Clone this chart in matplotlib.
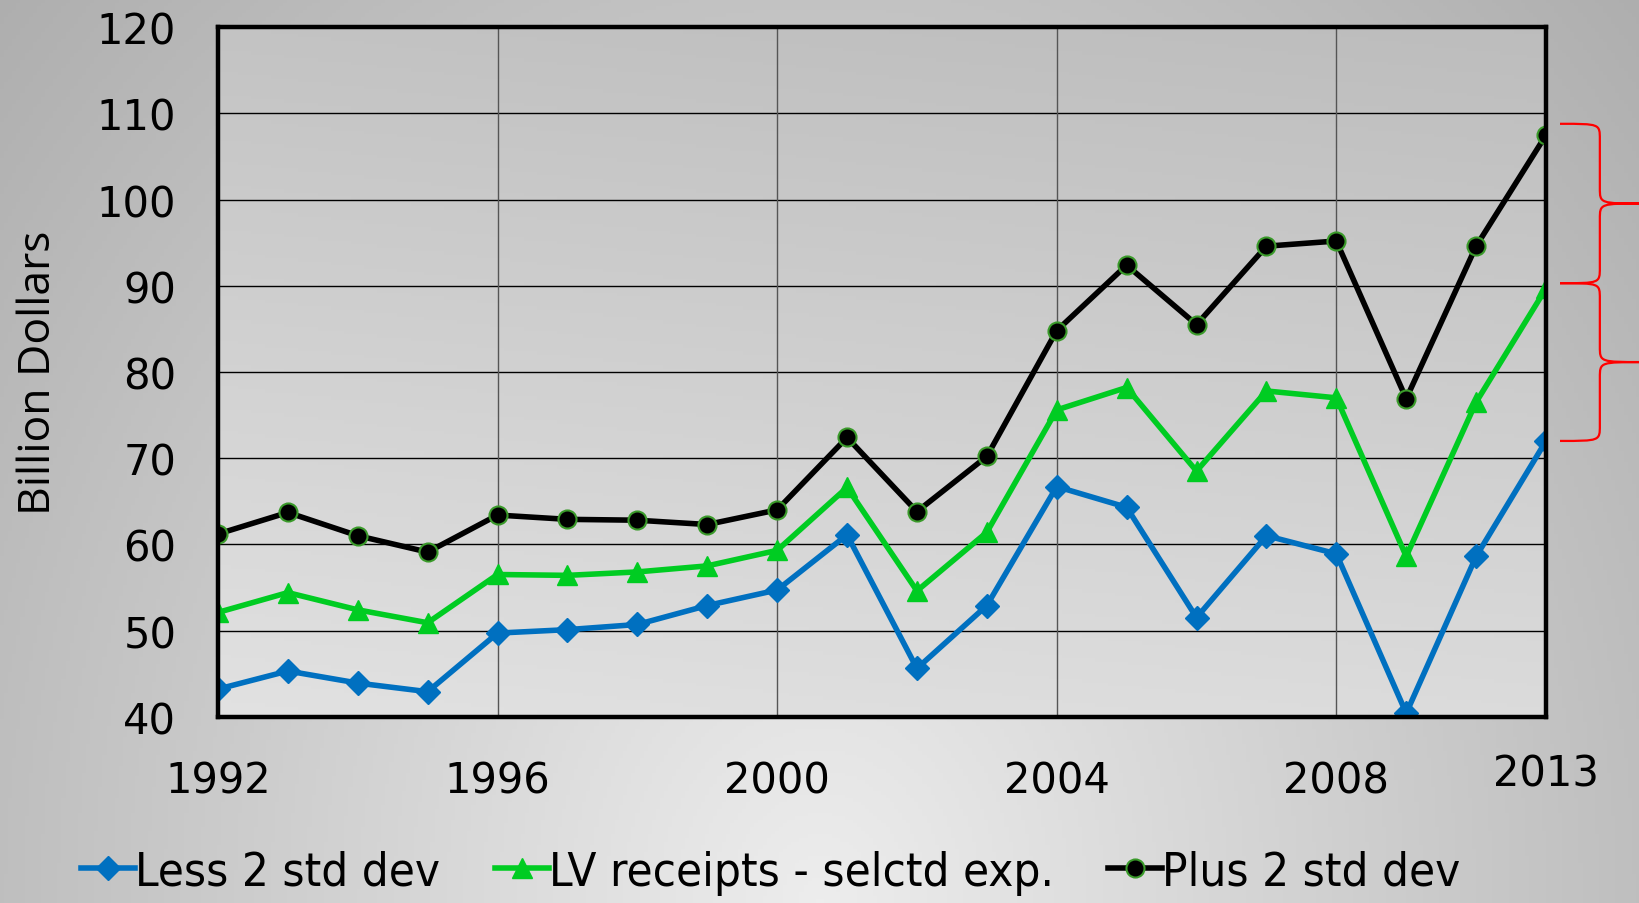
import numpy as np
import matplotlib
matplotlib.use("Agg")
import matplotlib.pyplot as plt
from matplotlib.path import Path
from matplotlib.patches import PathPatch
from matplotlib.lines import Line2D
import matplotlib.transforms as mtransforms

# data
years = list(range(1992, 2012))
less_2sd = [43.2, 45.3, 43.9, 42.9, 49.7, 50.1, 50.7, 52.9, 54.7, 61.1,
            45.6, 52.9, 66.7, 64.3, 51.5, 61.0, 58.9, 40.4, 58.6, 72.0]
lv_receipts = [52.1, 54.4, 52.4, 50.9, 56.5, 56.4, 56.8, 57.5, 59.3, 66.6,
               54.6, 61.4, 75.6, 78.2, 68.5, 77.8, 77.0, 58.6, 76.5, 89.7]
plus_2sd = [61.2, 63.7, 61.0, 59.1, 63.4, 62.9, 62.8, 62.3, 64.0, 72.4,
            63.8, 70.2, 84.8, 92.4, 85.5, 94.6, 95.2, 76.9, 94.6, 107.5]
tick_pos = [0, 4, 8, 12, 16, 19]
tick_labels = ["1992", "1996", "2000", "2004", "2008", "2013"]
series_names = ["Less 2 std dev", "LV receipts - selctd exp.", "Plus 2 std dev"]

fig = plt.figure(figsize=(16.4, 9.04), dpi=100)

# figure background gradient
bg = fig.add_axes([0, 0, 1, 1], zorder=-10)
gx, gy = np.meshgrid(np.linspace(0, 1, 400), np.linspace(0, 1, 250))
d = np.sqrt(((gx - 0.5) / 0.55) ** 2 + (gy / 1.2) ** 2)
vals = 0.93 - 0.2 * d
bg.imshow(np.dstack([vals] * 3), origin="lower", extent=(0, 1, 0, 1), aspect="auto")
bg.axis("off")

ax = fig.add_axes([0.1329, 0.2061, 0.8098, 0.7626])
ax.set_facecolor("none")
x = np.arange(len(years))

# plot area gradient
px, py = np.meshgrid(np.linspace(0, 1, 200), np.linspace(0, 1, 200))
pv = 0.765 + 0.12 * (1 - py) - 0.025 * px
ax.imshow(np.dstack([pv] * 3), origin="lower", extent=(0, len(years) - 1, 40, 120),
          aspect="auto", zorder=0)

ax.plot(x, less_2sd, color="#0070C0", lw=4, marker="D", ms=12, mec="#0070C0", zorder=3)
ax.plot(x, lv_receipts, color="#00CC22", lw=4, marker="^", ms=15, mec="#00CC22", zorder=3)
ax.plot(x, plus_2sd, color="black", lw=4, marker="o", ms=13, mec="#3a9a2a", mew=1.5, zorder=4)

ax.set_xlim(0, len(years) - 1)
ax.set_ylim(40, 120)
ax.set_yticks(range(40, 121, 10))
ax.set_xticks(tick_pos)
ax.set_xticklabels(tick_labels)
ax.tick_params(axis="y", length=0, pad=30, labelsize=30)
ax.tick_params(axis="x", length=0, pad=31, labelsize=30)
# last label sits a bit higher
lab = ax.get_xticklabels()[-1]
lab.set_transform(lab.get_transform() + mtransforms.ScaledTranslation(0, 5 / 72, fig.dpi_scale_trans))

ax.set_axisbelow(True)
ax.yaxis.grid(True, color="black", lw=1.0, zorder=1)
for xv in [4, 8, 12, 16]:
    ax.axvline(xv, color="#555555", lw=1.0, zorder=1)
for s in ax.spines.values():
    s.set_linewidth(3.2)
    s.set_zorder(5)

ax.set_ylabel("Billion Dollars", fontsize=32, family="Open Sans", labelpad=26)

# red braces on the right
def brace(y_top, y_bot, x0=19.2, xv=19.77, xt=20.4, r=1.8):
    ym = (y_top + y_bot) / 2
    verts = [(x0, y_top), (xv, y_top), (xv, y_top), (xv, y_top - r),
             (xv, ym + r),
             (xv, ym), (xv, ym), (xt, ym),
             (xv, ym), (xv, ym), (xv, ym - r),
             (xv, y_bot + r),
             (xv, y_bot), (xv, y_bot), (x0, y_bot)]
    codes = [Path.MOVETO, Path.CURVE4, Path.CURVE4, Path.CURVE4,
             Path.LINETO,
             Path.CURVE4, Path.CURVE4, Path.CURVE4,
             Path.CURVE4, Path.CURVE4, Path.CURVE4,
             Path.LINETO,
             Path.CURVE4, Path.CURVE4, Path.CURVE4]
    ax.add_patch(PathPatch(Path(verts, codes), fill=False, edgecolor="red",
                           lw=1.6, clip_on=False, zorder=6))

brace(plus_2sd[-1] + 1.3, lv_receipts[-1] + 0.6)
brace(lv_receipts[-1] + 0.6, less_2sd[-1])

handles = [
    Line2D([], [], color="#0070C0", lw=4, marker="D", ms=12),
    Line2D([], [], color="#00CC22", lw=4, marker="^", ms=15),
    Line2D([], [], color="black", lw=4, marker="o", ms=13, mec="#3a9a2a", mew=1.5),
]
fig.legend(handles, series_names, loc="center", bbox_to_anchor=(0.47, 0.034),
           ncol=3, frameon=False, handlelength=1.15, handletextpad=0.0,
           columnspacing=1.15, prop={"family": "DejaVu Sans", "stretch": "condensed", "size": 34})

fig.savefig("out.png", dpi=100)
